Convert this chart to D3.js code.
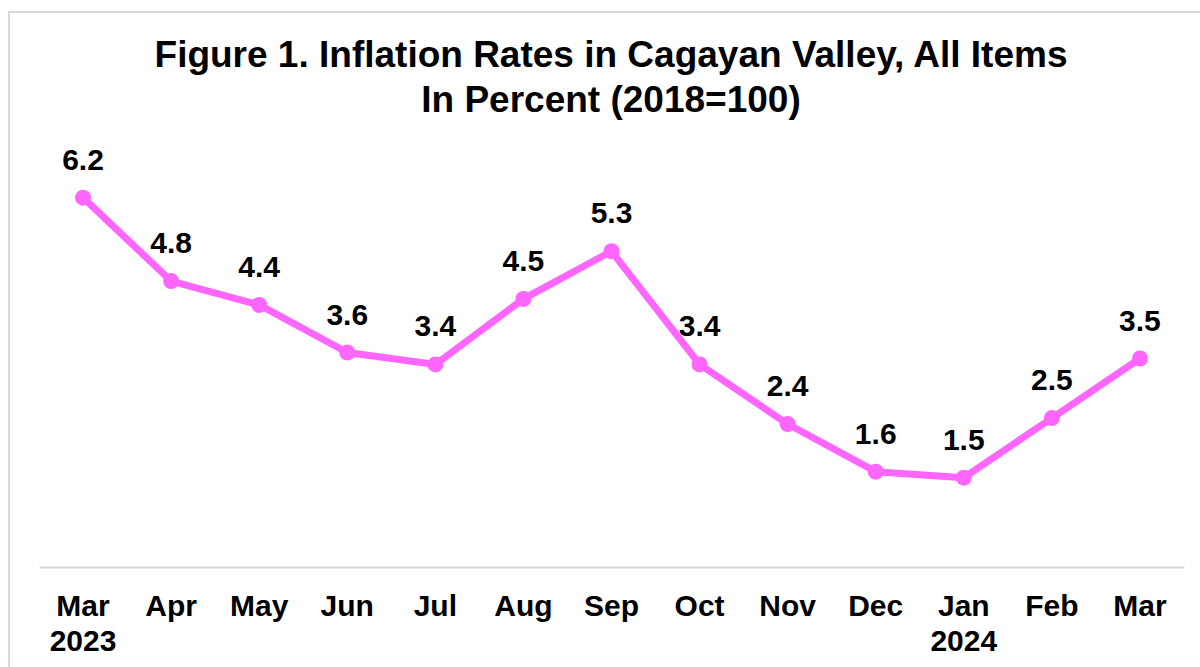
<!DOCTYPE html>
<html>
<head>
<meta charset="utf-8">
<script src="https://cdn.jsdelivr.net/npm/d3@7"></script>
<style>
    body { margin: 0; background: #fff; }
    svg { display: block; font-family: "Liberation Sans", Arial, sans-serif; }
</style>
</head>
<body>
<div id="chart"></div>
<script>
// Monthly inflation, Cagayan Valley
const months = ['Mar', 'Apr', 'May', 'Jun', 'Jul', 'Aug', 'Sep', 'Oct', 'Nov', 'Dec', 'Jan', 'Feb', 'Mar']
const years = ['2023', '', '', '', '', '', '', '', '', '', '2024', '', '']
const rates = [6.2, 4.8, 4.4, 3.6, 3.4, 4.5, 5.3, 3.4, 2.4, 1.6, 1.5, 2.5, 3.5]
const titleLines = ['Figure 1. Inflation Rates in Cagayan Valley, All Items', 'In Percent (2018=100)']

const width = 1200
const height = 667
const margin = { top: 150, right: 16, bottom: 100, left: 39 }

const svg = d3.select('#chart')
    .append('svg')
    .attr('width', width)
    .attr('height', height)

// chart frame, runs off the right and bottom edges
svg.append('rect')
    .attr('x', 9)
    .attr('y', 12)
    .attr('width', 1220)
    .attr('height', 700)
    .attr('fill', 'none')
    .attr('stroke', '#d9d9d9')
    .attr('stroke-width', 2)

svg.append('g')
    .selectAll('text')
    .data(titleLines)
    .join('text')
    .attr('x', 611)
    .attr('y', (d, i) => 67 + i * 45)
    .attr('text-anchor', 'middle')
    .attr('font-size', 37)
    .attr('font-weight', 'bold')
    .attr('fill', '#000')
    .text(d => d)

const idx = d3.range(months.length)
const x = d3.scaleBand()
    .domain(idx)
    .range([margin.left, width - margin.right])

const y = d3.scaleLinear()
    .domain([0, 7])
    .range([height - margin.bottom, margin.top])

const cx = i => x(i) + x.bandwidth() / 2

// axis baseline
const xAxis = svg.append('g')
    .attr('transform', `translate(0,${y(0)})`)
    .call(d3.axisBottom(x).tickSize(0).tickFormat(''))
xAxis.select('.domain')
    .attr('stroke', '#d9d9d9')
    .attr('stroke-width', 2)

const labels = svg.append('g')
    .selectAll('text')
    .data(idx)
    .join('text')
    .attr('text-anchor', 'middle')
    .attr('font-size', 30)
    .attr('font-weight', 'bold')
    .attr('fill', '#000')

labels.append('tspan')
    .attr('x', cx)
    .attr('y', 616)
    .text(i => months[i])
labels.append('tspan')
    .attr('x', cx)
    .attr('y', 651)
    .text(i => years[i])

const line = d3.line()
    .x((d, i) => cx(i))
    .y(d => y(d))

svg.append('path')
    .datum(rates)
    .attr('d', line)
    .attr('fill', 'none')
    .attr('stroke', '#ff66ff')
    .attr('stroke-width', 7)
    .attr('stroke-linejoin', 'round')

svg.append('g')
    .selectAll('circle')
    .data(rates)
    .join('circle')
    .attr('cx', (d, i) => cx(i))
    .attr('cy', d => y(d))
    .attr('r', 8)
    .attr('fill', '#ff66ff')

svg.append('g')
    .selectAll('text')
    .data(rates)
    .join('text')
    .attr('x', (d, i) => cx(i))
    .attr('y', d => y(d) - 28)
    .attr('text-anchor', 'middle')
    .attr('font-size', 30)
    .attr('font-weight', 'bold')
    .attr('fill', '#000')
    .text(d => d.toFixed(1))
</script>
</body>
</html>
